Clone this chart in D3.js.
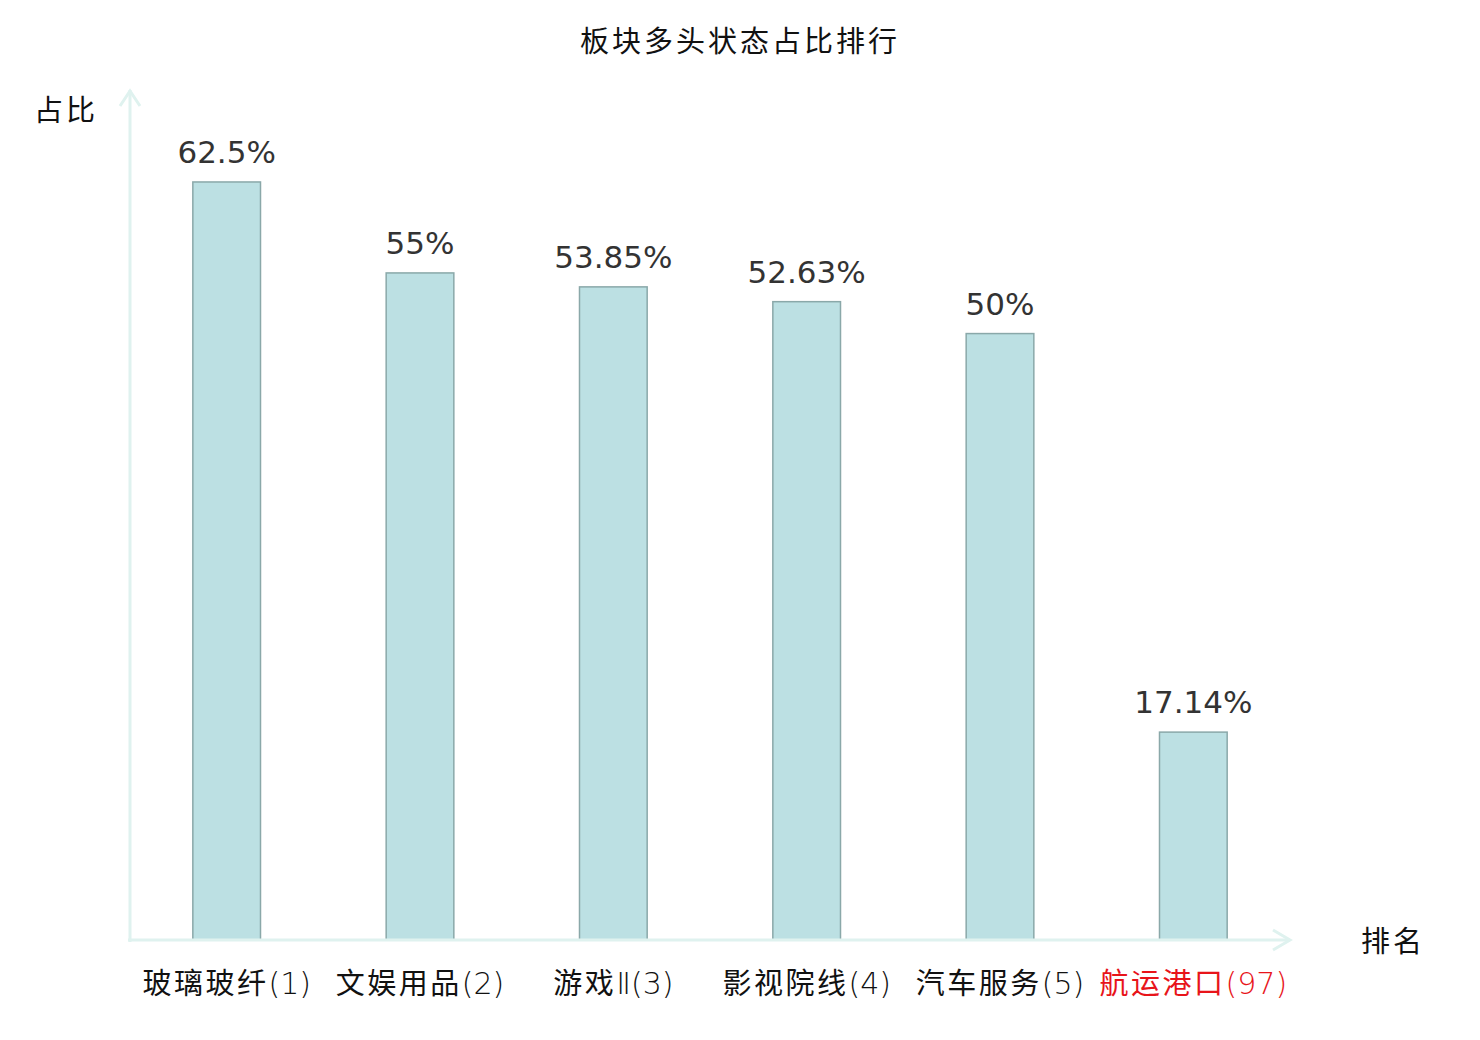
<!DOCTYPE html>
<html><head><meta charset="utf-8">
<script src="https://cdn.jsdelivr.net/npm/d3@7"></script>
<style>body{margin:0;background:#fff}svg{display:block}</style>
</head><body>
<script>
const categories = ["玻璃玻纤(1)","文娱用品(2)","游戏Ⅱ(3)","影视院线(4)","汽车服务(5)","航运港口(97)"];
const values = [62.5, 55, 53.85, 52.63, 50, 17.14];
const valueLabels = ["62.5%","55%","53.85%","52.63%","50%","17.14%"];
const highlight = [false,false,false,false,false,true];
const title = "板块多头状态占比排行";
const yName = "占比", xName = "排名";

const W=1480,H=1040;
const svg=d3.select("body").append("svg").attr("width",W).attr("height",H);
const x0=130,x1=1290,yb=940,yt=91;
const x=d3.scaleBand().domain(categories).range([x0,x1]).paddingInner(0.65).paddingOuter(0.325);
const y=d3.scaleLinear().domain([0,70]).range([yb,yt]);
const cjk='"Noto Sans CJK SC","Noto Sans",sans-serif';
const latin='"DejaVu Sans",sans-serif';

svg.append("text").attr("x",740).attr("y",52).attr("text-anchor","middle")
  .attr("font-family",cjk).attr("font-size",29).attr("letter-spacing",3).attr("fill","#111").text(title);

const axisCol="#dff2ef";
svg.append("line").attr("x1",x0).attr("x2",x0).attr("y1",yb+2).attr("y2",y(70)-1).attr("stroke",axisCol).attr("stroke-width",3);
svg.append("polyline").attr("points",`${x0-10},${y(70)+15} ${x0},${y(70)} ${x0+10},${y(70)+15}`).attr("fill","none").attr("stroke",axisCol).attr("stroke-width",3);

svg.selectAll("rect.bar").data(values).join("rect").attr("class","bar")
  .attr("x",(d,i)=>x(categories[i])).attr("width",x.bandwidth())
  .attr("y",d=>y(d)).attr("height",d=>yb-y(d))
  .attr("fill","#bce0e3").attr("stroke","#8aa8a9").attr("stroke-width",1.5);

svg.append("line").attr("x1",x0-2).attr("x2",x1).attr("y1",yb).attr("y2",yb).attr("stroke",axisCol).attr("stroke-width",3);
svg.append("polyline").attr("points",`${x1-17},${yb-10} ${x1},${yb} ${x1-17},${yb+10}`).attr("fill","none").attr("stroke",axisCol).attr("stroke-width",3);

svg.selectAll("text.val").data(values).join("text").attr("class","val")
  .attr("x",(d,i)=>x(categories[i])+x.bandwidth()/2).attr("y",d=>y(d)-19)
  .attr("text-anchor","middle").attr("font-family","DejaVu Sans").attr("font-size",31).attr("fill","#333")
  .text((d,i)=>valueLabels[i]);

const cats=svg.selectAll("text.cat").data(categories).join("text").attr("class","cat")
  .attr("x",d=>x(d)+x.bandwidth()/2).attr("y",994)
  .attr("text-anchor","middle")
  .attr("fill",(d,i)=>highlight[i]?"#e8141a":"#111");
cats.each(function(d){
  const m=d.match(/^([^\x00-\x7F\u2160-\u217F]+)(.*)$/);
  const t=d3.select(this);
  t.append("tspan").attr("font-family",cjk).attr("font-size",29).attr("letter-spacing",2.5).text(m[1]);
  t.append("tspan").attr("font-family",latin).attr("font-weight",200).attr("font-size",30).text(m[2]);
});

svg.append("text").attr("x",34).attr("y",121).attr("font-family",cjk).attr("font-size",29).attr("letter-spacing",3).attr("fill","#111").text(yName);
svg.append("text").attr("x",1361).attr("y",952).attr("font-family",cjk).attr("font-size",29).attr("letter-spacing",3).attr("fill","#111").text(xName);
</script>
</body></html>
